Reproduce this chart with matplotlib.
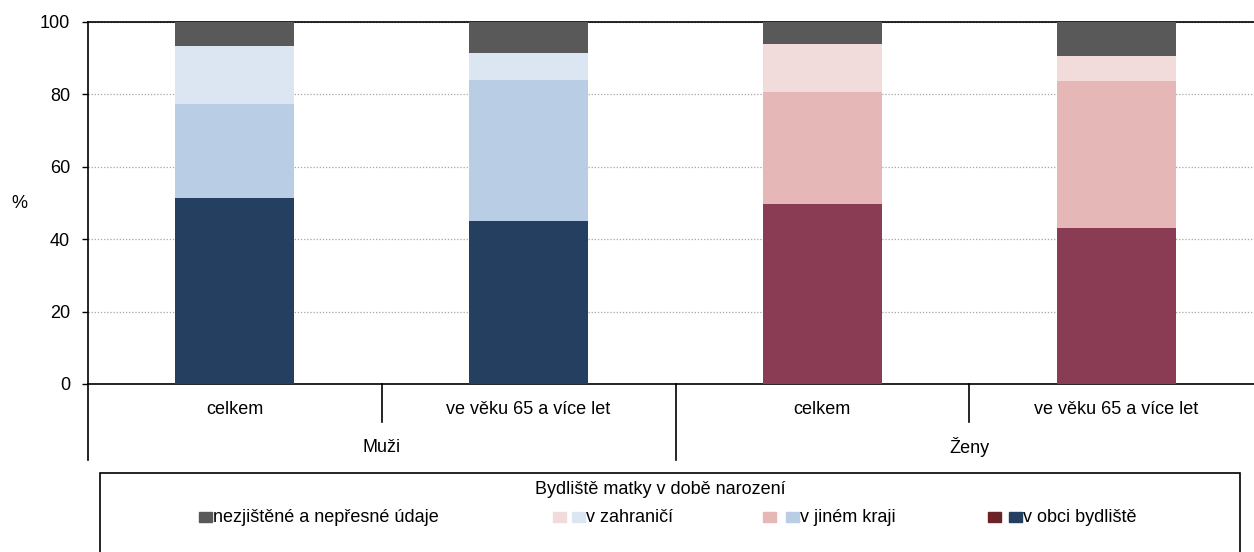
import matplotlib
matplotlib.use("Agg")
import matplotlib.pyplot as plt
from matplotlib.patches import Rectangle
from matplotlib.lines import Line2D
import numpy as np

plt.rcParams['font.family'] = ['Liberation Sans', 'DejaVu Sans']

categories = ["celkem", "ve věku 65 a více let", "celkem", "ve věku 65 a více let"]
groups = ["Muži", "Ženy"]
v_obci = [51.4, 45.0, 49.7, 43.1]
v_jinem = [25.9, 39.0, 31.0, 40.6]
v_zahranici = [16.1, 7.4, 13.3, 7.0]
nezjistene = [6.6, 8.6, 6.0, 9.3]

series_names = ["nezjištěné a nepřesné údaje", "v zahraničí", "v jiném kraji", "v obci bydliště"]
legend_title = "Bydliště matky v době narození"

men_colors = {"obci": "#243F60", "jinem": "#B9CDE5", "zahr": "#DCE6F2", "nez": "#595959"}
women_colors = {"obci": "#893C53", "jinem": "#E6B7B7", "zahr": "#F2DCDB", "nez": "#595959"}

FS = 13
W, H = 1254, 552
fig = plt.figure(figsize=(W/100, H/100), dpi=100)

def fx(px): return px / W
def fy(py): return 1 - py / H

ax_left, ax_right, ax_top, ax_bot = 88, 1263, 22, 384
ax = fig.add_axes([fx(ax_left), fy(ax_bot), fx(ax_right - ax_left), (ax_bot - ax_top) / H])

x = np.arange(len(categories))
bw = 0.405
for i in range(len(categories)):
    c = men_colors if i < 2 else women_colors
    bottom = 0
    for val, key in [(v_obci[i], "obci"), (v_jinem[i], "jinem"), (v_zahranici[i], "zahr"), (nezjistene[i], "nez")]:
        ax.bar(x[i], val, bw, bottom=bottom, color=c[key], zorder=3)
        bottom += val

ax.set_xlim(-0.5, 3.5)
ax.set_ylim(0, 100)
ax.set_yticks([0, 20, 40, 60, 80, 100])
ax.yaxis.grid(True, linestyle=(0, (1, 1.5)), color="#A6A6A6", linewidth=0.9, zorder=0)
ax.tick_params(axis='y', labelsize=FS, length=4.3, width=1, pad=8.5)
ax.set_xticks([])
for s in ["left", "bottom", "top"]:
    ax.spines[s].set_color("black")
    ax.spines[s].set_linewidth(1.2)
ax.spines["right"].set_visible(False)
fig.text(fx(19.5), fy(204), "%", fontsize=FS, ha="center", va="center")

# category labels
trans = ax.get_xaxis_transform()
for i, lab in enumerate(categories):
    ax.text(x[i], (ax_bot - 409) / (ax_bot - ax_top), lab, transform=trans,
            ha="center", va="center", fontsize=FS)
for g, lab in enumerate(groups):
    ax.text(0.5 + 2 * g, (ax_bot - 447) / (ax_bot - ax_top), lab, transform=trans,
            ha="center", va="center", fontsize=FS)

# separators
for sx, yend in [(-0.5, 460), (0.5, 422), (1.5, 460), (2.5, 422)]:
    ax.add_line(Line2D([sx, sx], [0, (ax_bot - yend) / (ax_bot - ax_top)], transform=trans,
                       color="black", linewidth=1.2, clip_on=False))

# legend box
fig.patches.append(Rectangle((fx(100), fy(560)), fx(1240 - 100), (560 - 473) / H,
                             transform=fig.transFigure, fill=False, edgecolor="black",
                             linewidth=1.2))
fig.text(fx(660), fy(494), legend_title, ha="center", va="baseline", fontsize=FS)

def square(px, color):
    fig.patches.append(Rectangle((fx(px), fy(522)), fx(13), 10 / H,
                                 transform=fig.transFigure, color=color))

entries = [
    ([("#595959", 199)], 213, series_names[0]),
    ([(women_colors["zahr"], 553), (men_colors["zahr"], 572)], 586, series_names[1]),
    ([(women_colors["jinem"], 763), (men_colors["jinem"], 786)], 800, series_names[2]),
    ([("#6B2326", 988), (men_colors["obci"], 1009)], 1023, series_names[3]),
]
for squares, tx, name in entries:
    for col, px in squares:
        square(px, col)
    fig.text(fx(tx), fy(522), name, ha="left", va="baseline", fontsize=FS)

fig.savefig("out.png", dpi=100)
